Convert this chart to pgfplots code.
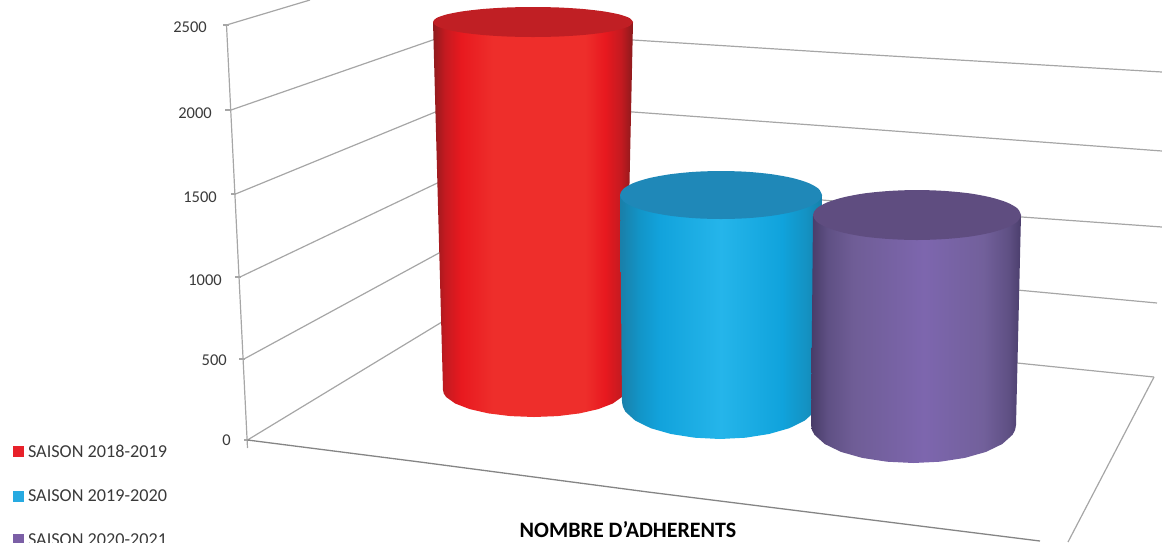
\documentclass[border=0pt]{standalone}
\usepackage{fontspec}
\setmainfont{Carlito}
\usepackage{pgfplots}
\pgfplotsset{compat=1.18}
\definecolor{gridc}{HTML}{A6A6A6}
\definecolor{txt}{HTML}{3A3A3A}
\definecolor{legred}{HTML}{E8212A}
\definecolor{legblue}{HTML}{27AAE1}
\definecolor{legpurple}{HTML}{7B5FA6}
\definecolor{capred}{HTML}{C01F24}
\definecolor{capblue}{HTML}{1F88B8}
\definecolor{cappurple}{HTML}{5F4D80}
\definecolor{ra}{HTML}{8E1B1E}\definecolor{rb}{HTML}{C41A20}\definecolor{rc}{HTML}{E8191F}\definecolor{rd}{HTML}{EE2E2B}\definecolor{re}{HTML}{8A1A1C}
\definecolor{ba}{HTML}{1A7FA8}\definecolor{bb}{HTML}{1295C8}\definecolor{bc}{HTML}{12A3DC}\definecolor{bd}{HTML}{25B5EA}\definecolor{be}{HTML}{10A3DC}\definecolor{bf}{HTML}{1492C3}\definecolor{bg}{HTML}{1680AA}
\definecolor{pa}{HTML}{483C68}\definecolor{pb}{HTML}{5F5084}\definecolor{pc}{HTML}{6F5D96}\definecolor{pd}{HTML}{7D66AE}\definecolor{pe}{HTML}{72609B}\definecolor{pf}{HTML}{4B3E6C}
\pgfdeclarehorizontalshading{cylred}{100bp}{
 color(0bp)=(ra); color(25bp)=(ra); color(28bp)=(rb); color(32bp)=(rc);
 color(40bp)=(rd); color(63bp)=(rd); color(68bp)=(rc); color(72bp)=(rb);
 color(75bp)=(re); color(100bp)=(re)}
\pgfdeclarehorizontalshading{cylblue}{100bp}{
 color(0bp)=(ba); color(25bp)=(ba); color(30bp)=(bb); color(35bp)=(bc);
 color(50bp)=(bd); color(65bp)=(be); color(71bp)=(bf);
 color(75bp)=(bg); color(100bp)=(bg)}
\pgfdeclarehorizontalshading{cylpurple}{100bp}{
 color(0bp)=(pa); color(25bp)=(pa); color(29bp)=(pb); color(35bp)=(pc);
 color(52bp)=(pd); color(66bp)=(pe); color(72bp)=(pb);
 color(75bp)=(pf); color(100bp)=(pf)}
\begin{document}
\begin{tikzpicture}
\useasboundingbox (0,0) rectangle (1162pt,542pt);
\clip (0,0) rectangle (1162pt,542pt);
\begin{axis}[
  at={(0,0)}, anchor=south west,
  scale only axis, width=1162pt, height=542pt,
  xmin=0, xmax=1162, ymin=0, ymax=542, y dir=reverse,
  axis lines=none, clip=true,
  legend cell align=left,
  legend image code/.code={\fill[draw=none,#1] (0pt,-5.5pt) rectangle (11pt,5.5pt);},
  legend style={at={(axis cs:13,445)}, anchor=north west, draw=none, fill=none,
    inner sep=0pt, outer sep=0pt, row sep=30.5pt, column sep=4pt,
    font=\fontsize{18.2}{18.2}\selectfont\color{txt},
    nodes={inner sep=0pt, outer sep=0pt}},
]
% walls and floor
\addplot[gridc, line width=1.2pt, forget plot] coordinates {(226.5,25) (247.5,448)};
\addplot[gridc, line width=1.2pt, forget plot] coordinates {(223,25) (229,25)};
\addplot[gridc, line width=1.2pt, forget plot] coordinates {(225,110) (231,110)};
\addplot[gridc, line width=1.2pt, forget plot] coordinates {(231,194) (236,194)};
\addplot[gridc, line width=1.2pt, forget plot] coordinates {(235,277) (241,277)};
\addplot[gridc, line width=1.2pt, forget plot] coordinates {(239,359) (245,359)};
\addplot[gridc, line width=1.2pt, forget plot] coordinates {(244,440) (250,440)};
\addplot[gridc, line width=1.2pt, forget plot] coordinates {(226.5,25) (310,0)};
\addplot[gridc, line width=1.2pt, forget plot] coordinates {(231,110) (450,34)};
\addplot[gridc, line width=1.2pt, forget plot] coordinates {(235.5,194) (450,106)};
\addplot[gridc, line width=1.2pt, forget plot] coordinates {(240,277) (450,177)};
\addplot[gridc, line width=1.2pt, forget plot] coordinates {(244,359) (450,247)};
\addplot[gridc, line width=1.2pt, forget plot] coordinates {(247.5,440) (460,311)};
\addplot[gridc, line width=1.2pt, forget plot] coordinates {(560,35) (633,40) (840,53) (1162,72)};
\addplot[gridc, line width=1.2pt, forget plot] coordinates {(560,106) (633,112) (840,127) (1162,151)};
\addplot[gridc, line width=1.2pt, forget plot] coordinates {(822,200) (1022,217) (1162,227)};
\addplot[gridc, line width=1.2pt, forget plot] coordinates {(980,287) (1017,290) (1157,303)};
\addplot[gridc, line width=1.2pt, forget plot] coordinates {(980,358) (1017,363) (1154,377)};
\addplot[gridc!80!black, line width=1.3pt, forget plot] coordinates {(247.5,440) (420,462) (648,492) (1040,541)};
\addplot[gridc, line width=1.2pt, forget plot] coordinates {(1154,377) (1068,542)};
% red cylinder
\addplot[shade, shading=cylred, draw=none, forget plot] coordinates {(433,22) (443,390) (443.8,393.5) (446.1,397) (455.2,403.5) (469.7,409.1) (488.5,413.4) (510.4,416.1) (534,417) (557.6,416.1) (579.5,413.4) (598.3,409.1) (612.8,403.5) (621.9,397) (624.2,393.5) (625,390) (633,22)} --cycle;
\addplot[fill=capred, draw=none, smooth, forget plot] coordinates {(633,22) (629.6,25.9) (619.6,29.5) (603.7,32.6) (583,35) (558.9,36.5) (533,37) (507.1,36.5) (483,35) (462.3,32.6) (446.4,29.5) (436.4,25.9) (433,22) (436.4,18.1) (446.4,14.5) (462.3,11.4) (483,9) (507.1,7.5) (533,7) (558.9,7.5) (583,9) (603.7,11.4) (619.6,14.5) (629.6,18.1) (633,22)} --cycle;
% blue cylinder
\addplot[shade, shading=cylblue, draw=none, forget plot] coordinates {(620,195) (622,402) (622.9,406.8) (625.3,411.6) (635.1,420.5) (650.7,428.2) (671,434) (694.6,437.7) (720,439) (745.4,437.7) (769,434) (789.3,428.2) (804.9,420.5) (814.7,411.6) (817.1,406.8) (818,402) (822,195)} --cycle;
\addplot[fill=capblue, draw=none, smooth, forget plot] coordinates {(822,195) (818.6,201.2) (808.5,207) (792.4,212) (771.5,215.8) (747.2,218.2) (721,219) (694.8,218.2) (670.5,215.8) (649.6,212) (633.5,207) (623.4,201.2) (620,195) (623.4,188.8) (633.5,183) (649.6,178) (670.5,174.2) (694.8,171.8) (721,171) (747.2,171.8) (771.5,174.2) (792.4,178) (808.5,183) (818.6,188.8) (822,195)} --cycle;
% purple cylinder
\addplot[shade, shading=cylpurple, draw=none, forget plot] coordinates {(813,215) (811,425) (811.9,430) (814.5,434.8) (824.7,444) (841,451.9) (862.2,457.9) (887,461.7) (913.5,463) (940,461.7) (964.8,457.9) (986,451.9) (1002.3,444) (1012.5,434.8) (1015.1,430) (1016,425) (1021,215)} --cycle;
\addplot[fill=cappurple, draw=none, smooth, forget plot] coordinates {(1021,215) (1017.5,221.5) (1007.1,227.5) (990.5,232.7) (969,236.7) (943.9,239.1) (917,240) (890.1,239.1) (865,236.7) (843.5,232.7) (826.9,227.5) (816.5,221.5) (813,215) (816.5,208.5) (826.9,202.5) (843.5,197.3) (865,193.3) (890.1,190.9) (917,190) (943.9,190.9) (969,193.3) (990.5,197.3) (1007.1,202.5) (1017.5,208.5) (1021,215)} --cycle;
% legend
\addlegendimage{fill=legred}\addlegendentry{SAISON 2018-2019}
\addlegendimage{fill=legblue}\addlegendentry{SAISON 2019-2020}
\addlegendimage{fill=legpurple}\addlegendentry{SAISON 2020-2021}
% value labels of the axis
\begin{scope}[every node/.style={font=\fontsize{16.5}{17}\selectfont, text=txt, inner sep=0pt, anchor=east}]
\node at (axis cs:207,27) {2500};
\node at (axis cs:212,113) {2000};
\node at (axis cs:217,197) {1500};
\node at (axis cs:222,280) {1000};
\node at (axis cs:227,360) {500};
\node at (axis cs:231,440) {0};
\end{scope}
\node[font=\fontsize{22}{24}\selectfont\bfseries, text=black, inner sep=0pt] at (axis cs:628,530) {NOMBRE D'ADHERENTS};
\end{axis}
\end{tikzpicture}
\end{document}
